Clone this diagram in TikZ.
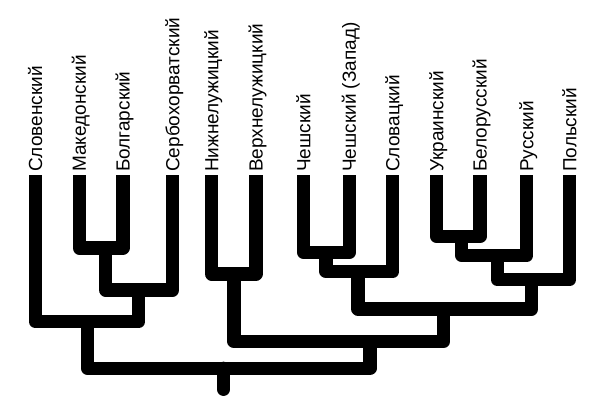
\documentclass[tikz,border=0pt]{standalone}
\usepackage{fontspec}
\setmainfont{Liberation Sans}
\begin{document}
\begin{tikzpicture}[x=1pt,y=-1pt,
  branch/.style={line width=13.3pt,line join=round,line cap=butt},
  lab/.style={rotate=90,anchor=base west,inner sep=0pt,font=\fontsize{19}{21}\selectfont}]
\useasboundingbox (0,0) rectangle (599,399);
% leaf tops
\coordinate (L1) at (35.5,175);
\coordinate (L2) at (79.3,175);
\coordinate (L3) at (123,175);
\coordinate (L4) at (172.7,175);
\coordinate (L5) at (211.7,175);
\coordinate (L6) at (256,175);
\coordinate (L7) at (303.7,175);
\coordinate (L8) at (349.3,175);
\coordinate (L9) at (392.7,175);
\coordinate (L10) at (436.7,175);
\coordinate (L11) at (480,175);
\coordinate (L12) at (526.7,175);
\coordinate (L13) at (569.7,175);
% labels
\foreach \i/\t in {1/Словенский,2/Македонский,3/Болгарский,4/Сербохорватский,
  5/Нижнелужицкий,6/Верхнелужицкий,7/Чешский,8/Чешский (Запад),9/Словацкий,
  10/Украинский,11/Белорусский,12/Русский,13/Польский}
  \node[lab] (t\i) at ([xshift=6.6pt,yshift=3pt]L\i) {\t};
% junctions
\coordinate (jA) at (105.7,248);
\coordinate (jB) at (138.7,290);
\coordinate (jC) at (87.7,321.7);
\coordinate (jD) at (234,274);
\coordinate (jF) at (326,252.5);
\coordinate (jG) at (358,271.5);
\coordinate (jI) at (461.7,236.5);
\coordinate (jJ) at (497.3,255.5);
\coordinate (jK) at (531.7,279.7);
\coordinate (jH) at (443.5,309);
\coordinate (jE) at (370,341.5);
\coordinate (jR) at (223.5,368.3);
\coordinate (rootend) at (223.5,389.3);
% branches
\draw[branch] (L2) |- (jA) -| (L3);
\draw[branch] (jA) |- (jB) -| (L4);
\draw[branch] (L1) |- (jC) -| (jB);
\draw[branch] (L5) |- (jD) -| (L6);
\draw[branch] (L7) |- (jF) -| (L8);
\draw[branch] (jF) |- (jG) -| (L9);
\draw[branch] (L10) |- (jI) -| (L11);
\draw[branch] (jI) |- (jJ) -| (L12);
\draw[branch] (jJ) |- (jK) -| (L13);
\draw[branch] (jG) |- (jH) -| (jK);
\draw[branch] (jD) |- (jE) -| (jH);
\draw[branch] (jC) |- (jR) -| (jE);
\draw[branch,line cap=round] (jR) -- (rootend);
\end{tikzpicture}
\end{document}
